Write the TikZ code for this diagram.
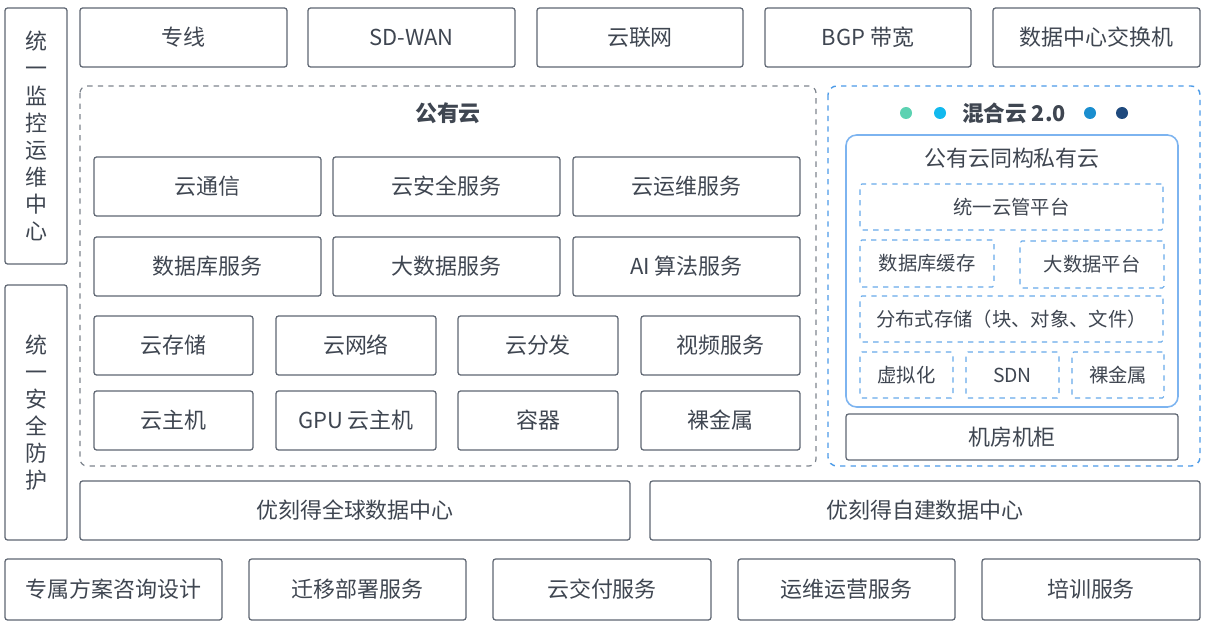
\documentclass[tikz,border=0pt]{standalone}
\usepackage{fontspec}
\setmainfont{Noto Sans CJK SC}
\definecolor{edge}{HTML}{5E6672}
\definecolor{ink}{HTML}{3F4651}
\definecolor{hyblue}{HTML}{4C9BE8}
\definecolor{inblue}{HTML}{7DB4F0}
\definecolor{dotA}{HTML}{5CD2B2}
\definecolor{dotB}{HTML}{12B9EE}
\definecolor{dotC}{HTML}{1A8ECF}
\definecolor{dotD}{HTML}{1F4A7E}

\tikzset{
  box/.style={draw=edge, line width=0.7pt, rounded corners=1.5pt, text=ink,
    inner sep=0pt, font=\fontsize{12.5}{14}\selectfont},
  smallbox/.style={draw=hyblue!85, dashed, line width=0.6pt, rounded corners=1pt,
    text=ink, inner sep=0pt, font=\fontsize{11}{12}\selectfont},
  vbox/.style={box, align=center, font=\fontsize{12.5}{15.4}\selectfont},
}

\begin{document}
\begin{tikzpicture}[x=0.02cm, y=-0.02cm]
  \useasboundingbox (0,0) rectangle (1207,625);
  \fill[white] (0,0) rectangle (1207,625);

  % side columns
  \node[vbox, minimum width=62*0.02cm, minimum height=256*0.02cm] (monitor) at (36,136)
    {统\\一\\监\\控\\运\\维\\中\\心};
  \node[vbox, minimum width=62*0.02cm, minimum height=255*0.02cm] (security) at (36,412.5)
    {统\\一\\安\\全\\防\\护};

  % network row
  \foreach \n/\a/\b/\t in {line/80/287/专线, sdwan/308/515/SD-WAN, ccn/537/743/云联网,
      bgp/765/971/BGP 带宽, dcsw/993/1200/数据中心交换机}
    \node[box, minimum width={(\b-\a)*0.02cm}, minimum height=59*0.02cm]
      (\n) at ({(\a+\b)/2},37.5) {\t};

  % public cloud
  \draw[edge!80, dashed, line width=0.7pt, rounded corners=4pt] (80,86) rectangle (816,466);
  \node[text=ink, font=\fontsize{12.5}{14}\selectfont\bfseries] (pubtitle) at (448,113) {公有云};
  \foreach \n/\a/\b/\c/\t in {comm/94/321/157/云通信, sec/333/560/157/云安全服务,
      ops/573/800/157/云运维服务, db/94/321/237/数据库服务, bigdata/333/560/237/大数据服务,
      ai/573/800/237/AI 算法服务}
    \node[box, minimum width={(\b-\a)*0.02cm}, minimum height=59*0.02cm]
      (\n) at ({(\a+\b)/2},{\c+29.5}) {\t};
  \foreach \n/\a/\b/\c/\t in {store/94/253/316/云存储, net/276/436/316/云网络,
      cdn/458/618/316/云分发, video/641/800/316/视频服务,
      host/94/253/391/云主机, gpu/276/436/391/GPU 云主机,
      ctr/458/618/391/容器, metal/641/800/391/裸金属}
    \node[box, minimum width={(\b-\a)*0.02cm}, minimum height=59*0.02cm]
      (\n) at ({(\a+\b)/2},{\c+29.5}) {\t};

  % hybrid cloud
  \draw[hyblue, dashed, line width=0.8pt, rounded corners=5pt] (828,86) rectangle (1200,466);
  \node[text=ink, font=\fontsize{12.3}{14}\selectfont\bfseries] (hybtitle) at (1014,113) {混合云 2.0};
  \foreach \x/\c in {906/dotA, 940/dotB, 1090/dotC, 1122/dotD}
    \fill[\c] (\x,113) circle (6);
  \draw[inblue, line width=0.9pt, rounded corners=6pt] (846,135) rectangle (1178,407);
  \node[text=ink, font=\fontsize{12.5}{14}\selectfont] (privtitle) at (1012,158) {公有云同构私有云};
  \foreach \n/\a/\b/\c/\d/\t in {cmp/860/1163/184/230/统一云管平台,
      dbcache/860/994/240/287/数据库缓存, bdp/1020/1164/241/288/大数据平台,
      dstore/860/1163/296/342/分布式存储（块、对象、文件）,
      virt/860/953/352/398/虚拟化, sdn/966/1059/352/398/SDN, bm/1072/1164/352/398/裸金属}
    \node[smallbox, minimum width={(\b-\a)*0.02cm}, minimum height={(\d-\c)*0.02cm}]
      (\n) at ({(\a+\b)/2},{(\c+\d)/2}) {\t};
  \node[box, minimum width=332*0.02cm, minimum height=46*0.02cm] (rack) at (1012,437) {机房机柜};

  % data centres
  \node[box, minimum width=550*0.02cm, minimum height=59*0.02cm] (globaldc) at (355,510.5) {优刻得全球数据中心};
  \node[box, minimum width=550*0.02cm, minimum height=59*0.02cm] (owndc) at (925,510.5) {优刻得自建数据中心};

  % services row
  \foreach \n/\a/\b/\t in {consult/5/222/专属方案咨询设计, migrate/249/466/迁移部署服务,
      deliver/493/711/云交付服务, operate/738/955/运维运营服务, train/982/1200/培训服务}
    \node[box, minimum width={(\b-\a)*0.02cm}, minimum height=61*0.02cm]
      (\n) at ({(\a+\b)/2},589.5) {\t};
\end{tikzpicture}
\end{document}
